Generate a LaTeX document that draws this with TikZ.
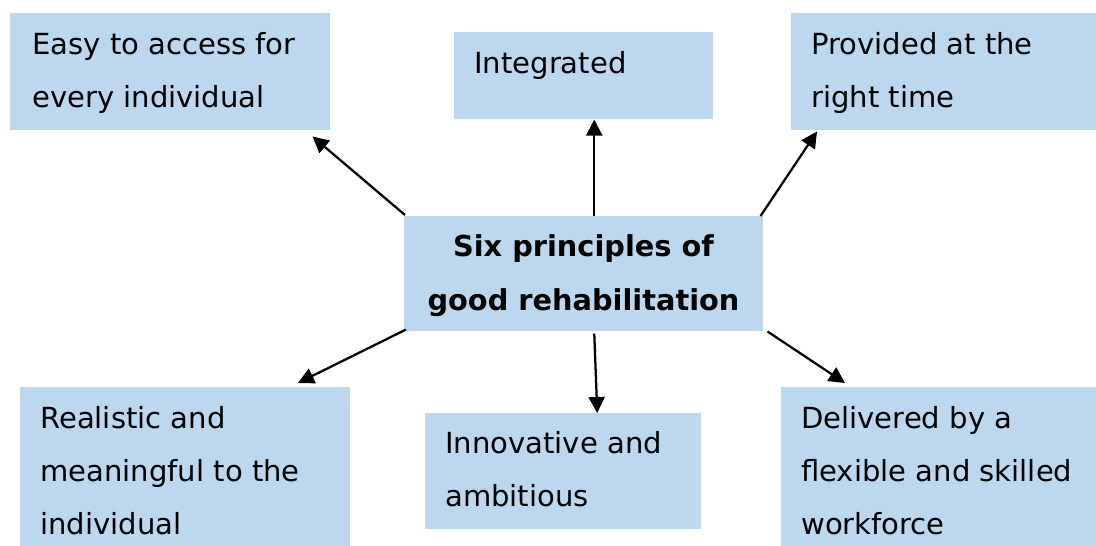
\documentclass[tikz,border=0pt]{standalone}
\usepackage{fontspec}
\setmainfont{DejaVu Sans}
\usetikzlibrary{arrows.meta,calc}
\definecolor{boxblue}{HTML}{BDD7EE}
\begin{document}
\begin{tikzpicture}[x=0.75pt,y=-0.75pt,
  box/.style={fill=boxblue, draw=none, inner sep=0pt, anchor=north west},
  txt/.style={anchor=base west, inner sep=0pt, align=left, font=\fontsize{21.8}{39.75}\selectfont},
  ctxt/.style={anchor=base, inner sep=0pt, align=center, font=\fontsize{21.6}{40.5}\selectfont\bfseries},
  arr/.style={line width=1.7pt, -{Triangle[length=12pt,width=12pt]}}]
\useasboundingbox (0,0) rectangle (1096,546);
% boxes
\node[box, minimum width=320*0.75pt, minimum height=117*0.75pt] (tl) at (10,13) {};
\node[box, minimum width=259*0.75pt, minimum height=87*0.75pt] (tc) at (454,32) {};
\node[box, minimum width=305*0.75pt, minimum height=117*0.75pt] (tr) at (791,13) {};
\node[box, minimum width=359*0.75pt, minimum height=115*0.75pt] (c) at (404,216) {};
\node[box, minimum width=330*0.75pt, minimum height=159*0.75pt] (bl) at (20,387) {};
\node[box, minimum width=276*0.75pt, minimum height=116*0.75pt] (bc) at (425,413) {};
\node[box, minimum width=315*0.75pt, minimum height=159*0.75pt] (br) at (781,387) {};
% texts (anchored at the baseline of the last line)
\node[txt] (tltext) at (32,107) {Easy to access for\\every individual};
\node[txt] (tctext) at (474,73) {Integrated};
\node[txt] (trtext) at (811,107) {Provided at the\\right time};
\node[ctxt] (ctext) at (583.5,310) {Six principles of\\good rehabilitation};
\node[txt] (bltext) at (40,534) {Realistic and\\meaningful to the\\individual};
\node[txt] (bctext) at (445,506) {Innovative and\\ambitious};
\node[txt] (brtext) at (801,534) {Delivered by a\\flexible and skilled\\workforce};
% arrows
\draw[arr] ($(c.north west)+(1,-1)$) -- ($(tl.south east)+(-18,6)$);
\draw[arr] ($(c.north)+(10.5,0)$) -- ($(tc.south)+(10.5,0)$);
\draw[arr] ($(c.north east)+(-3,0)$) -- ($(tr.south west)+(26,1)$);
\draw[arr] ($(c.south west)+(2,-2)$) -- ($(bl.north west)+(278,-4)$);
\draw[arr] ($(c.south)+(10.5,2)$) -- ($(bc.north)+(34,0)$);
\draw[arr] ($(c.south east)+(4,0)$) -- ($(br.north west)+(64,-4)$);
\end{tikzpicture}
\end{document}
